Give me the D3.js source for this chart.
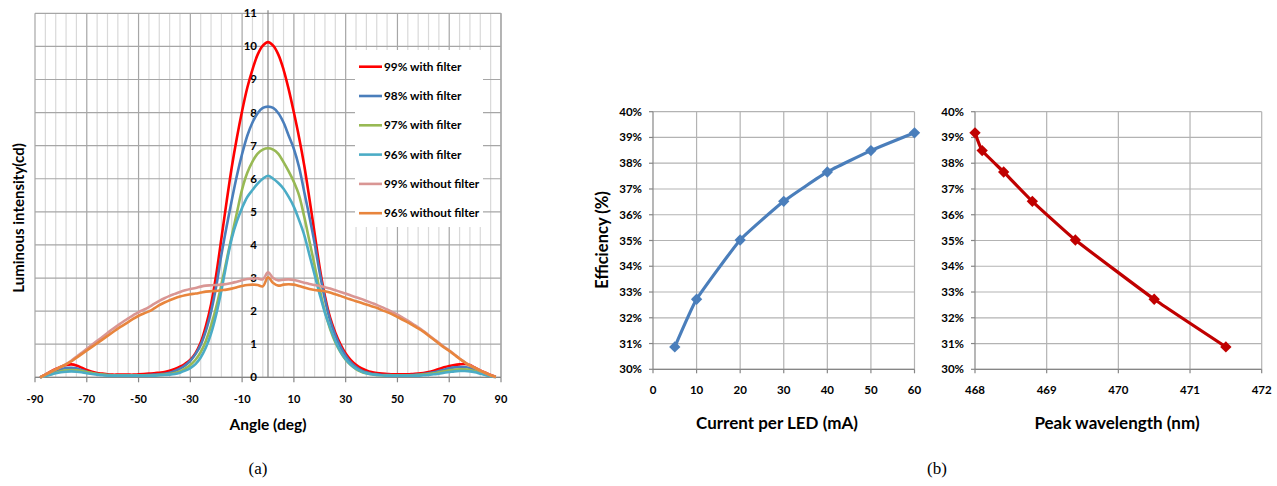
<!DOCTYPE html>
<html>
<head>
<meta charset="utf-8">
<script src="https://cdn.jsdelivr.net/npm/d3@7"></script>
<style>
  body { margin: 0; background: #fff; }
  svg text { font-family: Lato, "Open Sans", sans-serif; font-weight: 700; fill: #000; }
  svg text.caption { font-family: "Liberation Serif", "DejaVu Serif", serif; font-weight: 400; }
</style>
</head>
<body>
<div id="chart"></div>
<script>
// ---- data (a): luminous intensity vs angle ----
const angles = [-88,-86,-84,-82,-80,-78,-76,-74,-72,-70,-68,-66,-64,-62,-60,-58,-56,-54,-52,-50,-48,-46,-44,-42,-40,-38,-36,-34,-32,-30,-28,-26,-24,-22,-20,-18,-16,-14,-12,-10,-8,-6,-4,-2,
  0,2,4,6,8,10,12,14,16,18,20,22,24,26,28,30,32,34,36,38,40,42,44,46,48,50,52,54,56,58,60,62,64,66,68,70,72,74,76,78,80,82,84,86,88];

const red99 = [0.00,0.08,0.17,0.25,0.32,0.37,0.39,0.36,0.29,0.22,0.17,0.13,0.11,0.09,0.08,0.08,0.08,0.08,0.08,0.09,0.10,0.11,0.12,0.14,0.16,0.20,0.25,0.32,0.41,0.53,0.73,1.05,1.55,2.20,3.10,4.20,5.30,6.35,7.25,8.05,8.75,9.30,9.75,10.02,
  10.13,10.02,9.75,9.30,8.70,8.00,7.25,6.40,5.40,4.35,3.30,2.45,1.80,1.35,1.00,0.72,0.52,0.38,0.28,0.21,0.16,0.13,0.11,0.10,0.09,0.09,0.09,0.09,0.10,0.11,0.13,0.16,0.20,0.25,0.30,0.34,0.37,0.39,0.40,0.37,0.29,0.21,0.14,0.07,0.02];
const blue98 = [0.00,0.06,0.12,0.18,0.24,0.28,0.29,0.27,0.22,0.17,0.13,0.10,0.08,0.07,0.06,0.06,0.06,0.06,0.06,0.06,0.06,0.07,0.08,0.09,0.11,0.14,0.19,0.26,0.36,0.50,0.70,0.98,1.40,1.98,2.75,3.70,4.55,5.35,6.10,6.75,7.30,7.70,7.98,8.14,
  8.18,8.14,7.98,7.70,7.30,6.90,6.35,5.60,4.85,4.05,3.15,2.35,1.72,1.27,0.92,0.65,0.45,0.31,0.21,0.15,0.11,0.09,0.07,0.07,0.06,0.06,0.06,0.06,0.07,0.08,0.10,0.12,0.15,0.19,0.23,0.27,0.30,0.31,0.31,0.28,0.22,0.16,0.10,0.05,0.02];
const green97 = [0.00,0.05,0.09,0.14,0.18,0.21,0.22,0.21,0.19,0.16,0.13,0.10,0.08,0.07,0.06,0.06,0.06,0.06,0.06,0.06,0.06,0.06,0.06,0.07,0.08,0.10,0.13,0.18,0.26,0.37,0.53,0.76,1.10,1.56,2.12,2.80,3.54,4.27,4.98,5.68,6.18,6.52,6.76,6.88,
  6.92,6.88,6.75,6.50,6.22,5.90,5.50,4.85,4.12,3.38,2.64,1.98,1.46,1.06,0.76,0.53,0.37,0.25,0.17,0.12,0.09,0.07,0.06,0.06,0.06,0.06,0.06,0.06,0.06,0.07,0.08,0.10,0.12,0.15,0.18,0.21,0.23,0.24,0.24,0.22,0.18,0.13,0.08,0.04,0.01];
const teal96 = [0.00,0.04,0.08,0.12,0.15,0.17,0.18,0.17,0.15,0.12,0.10,0.08,0.06,0.05,0.05,0.05,0.05,0.05,0.05,0.05,0.05,0.05,0.05,0.06,0.07,0.08,0.10,0.14,0.20,0.28,0.40,0.60,0.90,1.32,1.90,2.62,3.45,4.20,4.72,5.12,5.45,5.66,5.85,6.00,
  6.09,6.00,5.87,5.70,5.45,5.15,4.75,4.30,3.70,3.10,2.50,1.95,1.50,1.10,0.78,0.55,0.38,0.26,0.18,0.12,0.09,0.07,0.06,0.05,0.05,0.05,0.05,0.05,0.05,0.05,0.06,0.07,0.09,0.11,0.14,0.16,0.18,0.19,0.19,0.18,0.15,0.11,0.07,0.03,0.00];
const pink99 = [0.00,0.08,0.16,0.24,0.32,0.40,0.50,0.62,0.74,0.86,0.98,1.10,1.22,1.34,1.46,1.57,1.68,1.78,1.88,1.97,2.04,2.12,2.22,2.31,2.39,2.46,2.52,2.58,2.63,2.67,2.70,2.74,2.77,2.78,2.79,2.80,2.82,2.85,2.89,2.93,2.97,2.98,2.99,2.96,
  3.17,3.00,2.93,2.95,2.96,2.94,2.90,2.86,2.82,2.79,2.76,2.72,2.68,2.63,2.58,2.53,2.47,2.42,2.37,2.31,2.25,2.19,2.12,2.05,1.97,1.89,1.80,1.71,1.61,1.51,1.40,1.28,1.16,1.04,0.92,0.81,0.69,0.57,0.46,0.36,0.28,0.20,0.13,0.06,0.01];
const orange96 = [0.00,0.08,0.16,0.24,0.31,0.39,0.48,0.59,0.70,0.81,0.92,1.03,1.14,1.25,1.36,1.47,1.57,1.67,1.77,1.86,1.93,1.99,2.08,2.18,2.26,2.33,2.39,2.44,2.48,2.51,2.53,2.56,2.59,2.60,2.61,2.63,2.65,2.68,2.72,2.76,2.79,2.80,2.79,2.75,
  3.02,2.85,2.77,2.80,2.81,2.80,2.76,2.71,2.67,2.64,2.62,2.60,2.56,2.51,2.46,2.40,2.35,2.30,2.25,2.20,2.15,2.10,2.03,1.97,1.90,1.82,1.74,1.66,1.57,1.48,1.38,1.26,1.14,1.02,0.90,0.80,0.68,0.56,0.45,0.35,0.28,0.20,0.13,0.06,0.01];

const seriesNames = ["99% with filter","98% with filter","97% with filter","96% with filter","99% without filter","96% without filter"];
const seriesColors = ["#ff0000","#4a7ebb","#98b954","#4bacc6","#d99694","#e8853d"];
const seriesValues = [red99, blue98, green97, teal96, pink99, orange96];

const angleTicks = [-90,-70,-50,-30,-10,10,30,50,70,90];
const intensityTicks = [0,1,2,3,4,5,6,7,8,9,10,11];

// ---- data (b): efficiency ----
const currents = [5,10,20,30,40,50,60];
const effByCurrent = [30.87,32.72,35.02,36.52,37.66,38.49,39.18];
const wavelengths = [468.0,468.1,468.4,468.8,469.4,470.5,471.5];
const effByWavelength = [39.18,38.49,37.66,36.52,35.02,32.72,30.87];
const currentTicks = [0,10,20,30,40,50,60];
const wavelengthTicks = [468,469,470,471,472];
const effTicks = [30,31,32,33,34,35,36,37,38,39,40];

const width = 1277, height = 486;
const svg = d3.select("#chart").append("svg")
    .attr("width", width)
    .attr("height", height);

//==== chart (a) ====
const a = {left: 35, right: 501, top: 13.3, bottom: 377.3};
const xA = d3.scaleLinear().domain([-90, 90]).range([a.left, a.right]);
const yA = d3.scaleLinear().domain([0, 11]).range([a.bottom, a.top]);

const gA = svg.append("g");

// minor vertical grid every 4 deg, darker every 20 deg
const minorX = d3.range(-90, 90.1, 4).concat([90]);
gA.append("g").selectAll("line")
  .data(minorX)
  .enter().append("line")
    .attr("x1", d => xA(d)).attr("x2", d => xA(d))
    .attr("y1", yA(0)).attr("y2", yA(11))
    .attr("stroke", d => angleTicks.includes(d) ? "#a6a6a6" : "#d9d9d9")
    .attr("stroke-width", 1.2);

gA.append("g").selectAll("line")
  .data(intensityTicks)
  .enter().append("line")
    .attr("x1", a.left).attr("x2", a.right)
    .attr("y1", d => yA(d)).attr("y2", d => yA(d))
    .attr("stroke", "#a6a6a6")
    .attr("stroke-width", 1.2);

// axes
gA.append("line")
  .attr("x1", xA(0)).attr("x2", xA(0))
  .attr("y1", yA(0)).attr("y2", yA(11) - 3)
  .attr("stroke", "#868686").attr("stroke-width", 1.2);
gA.append("line")
  .attr("x1", a.left).attr("x2", a.right)
  .attr("y1", yA(0)).attr("y2", yA(0))
  .attr("stroke", "#868686").attr("stroke-width", 1.2);
gA.append("g").selectAll("line")
  .data(angleTicks)
  .enter().append("line")
    .attr("x1", d => xA(d)).attr("x2", d => xA(d))
    .attr("y1", yA(0)).attr("y2", yA(0) + 5)
    .attr("stroke", "#868686").attr("stroke-width", 1.2);

gA.append("g").selectAll("text")
  .data(angleTicks)
  .enter().append("text")
    .attr("x", d => xA(d))
    .attr("y", yA(0) + 26)
    .attr("text-anchor", "middle")
    .attr("font-size", "11px")
    .text(d => d);

gA.append("g").selectAll("text")
  .data(intensityTicks)
  .enter().append("text")
    .attr("x", xA(0) - 11)
    .attr("y", d => yA(d) + 4)
    .attr("text-anchor", "end")
    .attr("font-size", "11.5px")
    .text(d => d);

// curves
const lineA = d3.line()
    .x((d, i) => xA(angles[i]))
    .y(d => yA(d))
    .curve(d3.curveCatmullRom.alpha(0.5));

gA.append("g").selectAll("path")
  .data(seriesValues)
  .enter().append("path")
    .attr("d", d => lineA(d))
    .attr("fill", "none")
    .attr("stroke", (d, i) => seriesColors[i])
    .attr("stroke-width", 2.6);

// legend
const leg = gA.append("g");
leg.append("rect")
  .attr("x", 355).attr("y", 50)
  .attr("width", 128).attr("height", 177)
  .attr("fill", "#fff");
const legRows = leg.selectAll("g")
  .data(seriesNames)
  .enter().append("g")
    .attr("transform", (d, i) => `translate(359,${66.7 + i * 29.3})`);
legRows.append("line")
  .attr("x1", 0).attr("x2", 23)
  .attr("stroke", (d, i) => seriesColors[i])
  .attr("stroke-width", 2.6);
legRows.append("text")
  .attr("x", 25).attr("y", 4)
  .attr("font-size", "11.8px")
  .text(d => d);

gA.append("text")
  .attr("x", xA(0)).attr("y", 430)
  .attr("text-anchor", "middle")
  .attr("font-size", "15.5px")
  .text("Angle (deg)");
gA.append("text")
  .attr("transform", "translate(24,218) rotate(-90)")
  .attr("text-anchor", "middle")
  .attr("font-size", "15px")
  .text("Luminous intensity(cd)");

//==== chart (b) ====
const yB = d3.scaleLinear().domain([30, 40]).range([369.3, 111.7]);

function drawPanel(xScale, xTicks, xs, ys, color, title, labelX) {
  const g = svg.append("g");
  const [x0, x1] = xScale.range();

  g.append("g").selectAll("line")
    .data(effTicks)
    .enter().append("line")
      .attr("x1", x0).attr("x2", x1)
      .attr("y1", d => yB(d)).attr("y2", d => yB(d))
      .attr("stroke", "#b3b3b3").attr("stroke-width", 1.2);
  g.append("g").selectAll("line")
    .data(xTicks.slice(1))
    .enter().append("line")
      .attr("x1", d => xScale(d)).attr("x2", d => xScale(d))
      .attr("y1", yB(30)).attr("y2", yB(40))
      .attr("stroke", "#b3b3b3").attr("stroke-width", 1.2);

  // axis lines and ticks
  g.append("line")
    .attr("x1", x0).attr("x2", x0).attr("y1", yB(30)).attr("y2", yB(40))
    .attr("stroke", "#868686").attr("stroke-width", 1.2);
  g.append("line")
    .attr("x1", x0).attr("x2", x1).attr("y1", yB(30)).attr("y2", yB(30))
    .attr("stroke", "#868686").attr("stroke-width", 1.2);
  g.append("g").selectAll("line")
    .data(effTicks)
    .enter().append("line")
      .attr("x1", x0 - 4).attr("x2", x0)
      .attr("y1", d => yB(d)).attr("y2", d => yB(d))
      .attr("stroke", "#868686").attr("stroke-width", 1.2);
  g.append("g").selectAll("line")
    .data(xTicks)
    .enter().append("line")
      .attr("x1", d => xScale(d)).attr("x2", d => xScale(d))
      .attr("y1", yB(30)).attr("y2", yB(30) + 4)
      .attr("stroke", "#868686").attr("stroke-width", 1.2);

  g.append("g").selectAll("text")
    .data(effTicks)
    .enter().append("text")
      .attr("x", x0 - 11)
      .attr("y", d => yB(d) + 4)
      .attr("text-anchor", "end")
      .attr("font-size", "11.5px")
      .text(d => d + "%");
  g.append("g").selectAll("text")
    .data(xTicks)
    .enter().append("text")
      .attr("x", d => xScale(d))
      .attr("y", yB(30) + 25)
      .attr("text-anchor", "middle")
      .attr("font-size", "11.5px")
      .text(d => d);

  const line = d3.line()
      .x((d, i) => xScale(xs[i]))
      .y(d => yB(d))
      .curve(d3.curveCardinal.tension(0.6));
  g.append("path")
    .attr("d", line(ys))
    .attr("fill", "none")
    .attr("stroke", color)
    .attr("stroke-width", 3.2);

  g.append("g").selectAll("path")
    .data(ys)
    .enter().append("path")
      .attr("d", d3.symbol().type(d3.symbolSquare).size(64))
      .attr("transform", (d, i) => `translate(${xScale(xs[i])},${yB(d)}) rotate(45)`)
      .attr("fill", color);

  g.append("text")
    .attr("x", labelX).attr("y", 429)
    .attr("text-anchor", "middle")
    .attr("font-size", "17px")
    .text(title);
  return g;
}

const xCur = d3.scaleLinear().domain([0, 60]).range([653, 914.5]);
const xWl = d3.scaleLinear().domain([468, 472]).range([975, 1261.7]);

drawPanel(xCur, currentTicks, currents, effByCurrent, "#4a7ebb", "Current per LED (mA)", 777);
drawPanel(xWl, wavelengthTicks, wavelengths, effByWavelength, "#c00000", "Peak wavelength (nm)", 1117);

svg.append("text")
  .attr("transform", "translate(608,240) rotate(-90)")
  .attr("text-anchor", "middle")
  .attr("font-size", "16.5px")
  .text("Efficiency (%)");

// captions
svg.append("text").attr("class", "caption")
  .attr("x", 258).attr("y", 474)
  .attr("text-anchor", "middle")
  .attr("font-size", "17px")
  .text("(a)");
svg.append("text").attr("class", "caption")
  .attr("x", 937).attr("y", 474)
  .attr("text-anchor", "middle")
  .attr("font-size", "17px")
  .text("(b)");
</script>
</body>
</html>
